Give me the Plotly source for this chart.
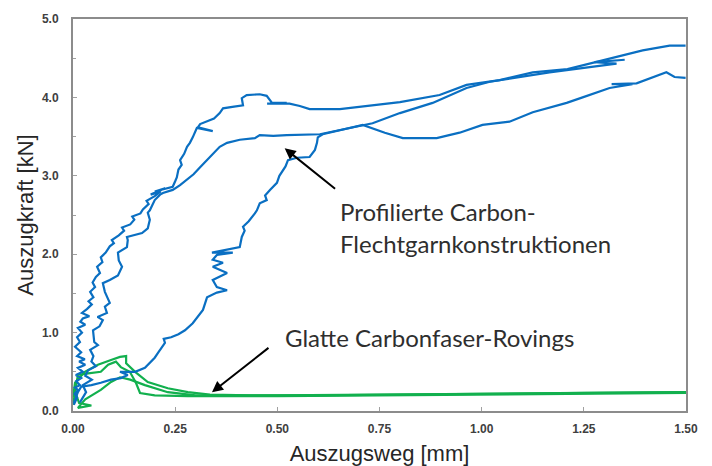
import plotly.graph_objects as go

# ---- Data (Auszugsweg [mm], Auszugkraft [kN]) ----
blue_a_x = [0.002, 0.010, 0.004, 0.012, 0.005, 0.017, 0.008, 0.020, 0.007, 0.024, 0.012, 0.030, 0.015, 0.029,
            0.010, 0.020, 0.005, 0.017, 0.010, 0.022, 0.012, 0.030, 0.018, 0.024, 0.040, 0.022, 0.034, 0.046,
            0.038, 0.050, 0.042, 0.054, 0.048, 0.056, 0.066, 0.059, 0.072, 0.068, 0.080, 0.090, 0.100, 0.095,
            0.112, 0.125, 0.120, 0.140, 0.150, 0.145, 0.165, 0.171, 0.185, 0.180, 0.200, 0.215, 0.190, 0.225,
            0.200, 0.244, 0.250, 0.254, 0.258, 0.266, 0.262, 0.272, 0.279, 0.286, 0.293, 0.298, 0.303, 0.342,
            0.306, 0.311, 0.330, 0.345, 0.359, 0.367, 0.390, 0.416, 0.413, 0.425, 0.457, 0.474, 0.487, 0.523,
            0.475, 0.530, 0.555, 0.579, 0.653, 0.719, 0.800, 0.897, 0.963, 1.044, 1.125, 1.210, 1.247, 1.330,
            1.394, 1.460, 1.499]
blue_a_y = [0.08, 0.17, 0.22, 0.27, 0.30, 0.33, 0.38, 0.42, 0.46, 0.50, 0.55, 0.59, 0.63, 0.66,
            0.70, 0.75, 0.82, 0.88, 0.94, 1.00, 1.06, 1.10, 1.14, 1.18, 1.21, 1.25, 1.30, 1.36,
            1.40, 1.45, 1.52, 1.58, 1.64, 1.71, 1.76, 1.84, 1.90, 1.96, 2.02, 2.10, 2.14, 2.18,
            2.24, 2.30, 2.34, 2.38, 2.44, 2.48, 2.52, 2.57, 2.64, 2.68, 2.74, 2.80, 2.76, 2.84,
            2.80, 2.86, 2.93, 2.98, 3.08, 3.14, 3.20, 3.28, 3.37, 3.42, 3.49, 3.55, 3.61, 3.57,
            3.62, 3.66, 3.70, 3.73, 3.80, 3.86, 3.88, 3.90, 3.99, 4.03, 4.04, 4.02, 3.93, 3.93,
            3.92, 3.92, 3.89, 3.85, 3.85, 3.89, 3.94, 4.03, 4.16, 4.22, 4.32, 4.36, 4.41, 4.52,
            4.60, 4.66, 4.66]

blue_b_x = [0.017, 0.032, 0.024, 0.046, 0.030, 0.037, 0.056, 0.045, 0.050, 0.042, 0.061, 0.052, 0.049, 0.065,
            0.073, 0.060, 0.083, 0.078, 0.090, 0.083, 0.078, 0.073, 0.090, 0.110, 0.120, 0.112, 0.110, 0.132,
            0.134, 0.132, 0.169, 0.183, 0.188, 0.183, 0.188, 0.200, 0.213, 0.220, 0.244, 0.262, 0.279, 0.295,
            0.311, 0.335, 0.359, 0.377, 0.408, 0.445, 0.457, 0.490, 0.523, 0.604, 0.653, 0.733, 0.800, 0.880,
            0.963, 1.020, 1.166, 1.247, 1.330, 1.276, 1.350]
blue_b_y = [0.11, 0.24, 0.33, 0.40, 0.45, 0.52, 0.57, 0.63, 0.70, 0.78, 0.84, 0.88, 1.03, 1.08,
            1.16, 1.20, 1.25, 1.33, 1.38, 1.45, 1.52, 1.63, 1.67, 1.73, 1.84, 1.92, 2.02, 2.09,
            2.18, 2.22, 2.27, 2.33, 2.44, 2.53, 2.56, 2.69, 2.76, 2.78, 2.82, 2.88, 2.95, 3.02,
            3.11, 3.24, 3.37, 3.42, 3.46, 3.48, 3.52, 3.51, 3.52, 3.53, 3.58, 3.67, 3.80, 3.93,
            4.12, 4.20, 4.32, 4.37, 4.43, 4.45, 4.48]

blue_c_x = [0.002, 0.012, 0.020, 0.045, 0.068, 0.093, 0.117, 0.134, 0.115, 0.152, 0.176, 0.191, 0.200, 0.208,
            0.225, 0.222, 0.240, 0.258, 0.274, 0.293, 0.305, 0.318, 0.328, 0.352, 0.377, 0.352, 0.342, 0.377,
            0.342, 0.367, 0.342, 0.352, 0.391, 0.340, 0.408, 0.413, 0.420, 0.416, 0.430, 0.438, 0.445, 0.450,
            0.457, 0.474, 0.470, 0.482, 0.490, 0.499, 0.505, 0.513, 0.520, 0.526, 0.548, 0.579, 0.592, 0.597,
            0.599, 0.611, 0.653, 0.709, 0.763, 0.807, 0.890, 0.946, 1.002, 1.068, 1.125, 1.208, 1.247, 1.313,
            1.369, 1.318, 1.379, 1.452, 1.472, 1.499]
blue_c_y = [0.10, 0.24, 0.31, 0.33, 0.36, 0.40, 0.42, 0.46, 0.50, 0.50, 0.55, 0.63, 0.68, 0.74,
            0.87, 0.92, 0.94, 0.98, 1.03, 1.12, 1.20, 1.29, 1.45, 1.51, 1.54, 1.58, 1.67, 1.76,
            1.84, 1.89, 1.93, 1.99, 2.02, 2.02, 2.09, 2.22, 2.30, 2.35, 2.42, 2.47, 2.52, 2.56,
            2.65, 2.69, 2.75, 2.82, 2.86, 2.91, 3.00, 3.07, 3.12, 3.20, 3.23, 3.24, 3.33, 3.42,
            3.49, 3.53, 3.58, 3.65, 3.55, 3.48, 3.48, 3.55, 3.65, 3.69, 3.81, 3.93, 4.00, 4.12,
            4.17, 4.17, 4.18, 4.32, 4.26, 4.25]

green_a_x = [0.000, 0.005, 0.029, 0.061, 0.093, 0.115, 0.130, 0.130, 0.152, 0.183, 0.232, 0.281, 0.335, 0.433,
             0.60, 0.75, 1.00, 1.25, 1.50]
green_a_y = [0.18, 0.36, 0.50, 0.59, 0.65, 0.69, 0.70, 0.61, 0.50, 0.37, 0.29, 0.24, 0.21, 0.20,
             0.20, 0.21, 0.22, 0.23, 0.24]

green_b_x = [0.000, 0.006, 0.012, 0.037, 0.068, 0.086, 0.105, 0.117, 0.139, 0.154, 0.164, 0.200, 0.281, 0.50,
             0.75, 1.00, 1.25, 1.50]
green_b_y = [0.08, 0.30, 0.46, 0.48, 0.50, 0.59, 0.63, 0.56, 0.50, 0.36, 0.23, 0.20, 0.19, 0.19,
             0.20, 0.21, 0.22, 0.23]

green_c_x = [0.005, 0.015, 0.045, 0.012, 0.030, 0.068, 0.093, 0.115, 0.140, 0.176, 0.232, 0.300, 0.50,
             0.75, 1.00, 1.25, 1.50]
green_c_y = [0.25, 0.10, 0.07, 0.04, 0.15, 0.27, 0.37, 0.43, 0.40, 0.33, 0.24, 0.20, 0.20,
             0.21, 0.22, 0.23, 0.24]

x_ticks = [0.0, 0.25, 0.5, 0.75, 1.0, 1.25, 1.5]
x_tick_labels = ["0.00", "0.25", "0.50", "0.75", "1.00", "1.25", "1.50"]
y_ticks = [0, 1, 2, 3, 4, 5]
y_tick_labels = ["0.0", "1.0", "2.0", "3.0", "4.0", "5.0"]

label_profiliert = ["Profilierte Carbon-", "Flechtgarnkonstruktionen"]
label_glatt = "Glatte Carbonfaser-Rovings"

BLUE = "#0a6fc2"
GREEN = "#12b04e"

fig = go.Figure()
for gx, gy in [(green_a_x, green_a_y), (green_b_x, green_b_y), (green_c_x, green_c_y)]:
    fig.add_trace(go.Scatter(x=gx, y=gy, mode="lines", line=dict(color=GREEN, width=2.2),
                             showlegend=False, hoverinfo="skip"))
for bx, by in [(blue_a_x, blue_a_y), (blue_b_x, blue_b_y), (blue_c_x, blue_c_y)]:
    fig.add_trace(go.Scatter(x=bx, y=by, mode="lines", line=dict(color=BLUE, width=2.2),
                             showlegend=False, hoverinfo="skip"))

tickfont = dict(family="Liberation Sans, Arial", size=12, color="#404040", weight="bold")
titlefont = dict(family="Liberation Sans, Arial", size=22, color="#262626")

# the page body adds an 8 px offset, so the figure is 8 px smaller than the window
fig.update_layout(
    width=704, height=458,
    margin=dict(l=65, r=26, t=11, b=55),
    paper_bgcolor="white", plot_bgcolor="white",
    xaxis=dict(range=[0, 1.5], tickvals=x_ticks, ticktext=x_tick_labels, ticks="inside", ticklen=4,
               tickcolor="#a0a0a0", showline=True, linecolor="#8c8c8c", linewidth=2, mirror=True,
               showgrid=False, zeroline=False, tickfont=tickfont, ticklabelstandoff=6, automargin=False,
               title=dict(text="Auszugsweg [mm]", font=titlefont, standoff=12)),
    yaxis=dict(range=[0, 5], tickvals=y_ticks, ticktext=y_tick_labels, ticks="inside", ticklen=4,
               tickcolor="#a0a0a0", showline=True, linecolor="#8c8c8c", linewidth=2, mirror=True,
               showgrid=False, zeroline=False, tickfont=tickfont, ticklabelstandoff=10, automargin=False,
               minor=dict(dtick=0.5, ticks="inside", ticklen=3, tickcolor="#a0a0a0"),
               title=dict(text="Auszugkraft [kN]", font=titlefont, standoff=2)),
)

annfont = dict(family="Lato, Noto Sans", size=24, color="#2e2e2e")
fig.add_annotation(x=0.518, y=3.35, ax=0.645, ay=2.82, xref="x", yref="y", axref="x", ayref="y",
                   text="", showarrow=True, arrowhead=2, arrowsize=1.1, arrowwidth=2, arrowcolor="black")
fig.add_annotation(x=0.340, y=0.24, ax=0.482, ay=0.82, xref="x", yref="y", axref="x", ayref="y",
                   text="", showarrow=True, arrowhead=2, arrowsize=1.1, arrowwidth=2, arrowcolor="black")
fig.add_annotation(x=0.648, y=2.54, xref="x", yref="y", text=label_profiliert[0], showarrow=False,
                   xanchor="left", yanchor="middle", font=annfont)
fig.add_annotation(x=0.648, y=2.14, xref="x", yref="y", text=label_profiliert[1], showarrow=False,
                   xanchor="left", yanchor="middle", font=annfont)
fig.add_annotation(x=0.513, y=0.94, xref="x", yref="y", text=label_glatt, showarrow=False,
                   xanchor="left", yanchor="middle", font=annfont)

fig.write_html("out.html")
